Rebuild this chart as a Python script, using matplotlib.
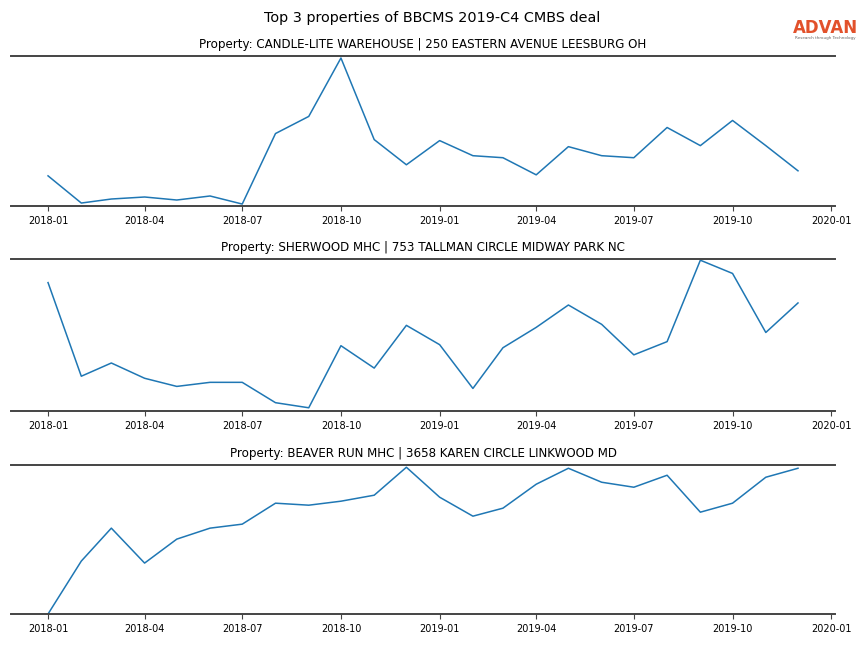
import numpy as np
import pandas as pd
import matplotlib
matplotlib.use("Agg")
import matplotlib.pyplot as plt

# Monthly dates, Jan 2018 - Dec 2019
months = pd.date_range("2018-01-01", "2019-12-01", freq="MS")

titles = [
    "Property: CANDLE-LITE WAREHOUSE | 250 EASTERN AVENUE LEESBURG OH",
    "Property: SHERWOOD MHC | 753 TALLMAN CIRCLE MIDWAY PARK NC",
    "Property: BEAVER RUN MHC | 3658 KAREN CIRCLE LINKWOOD MD",
]

# Relative activity (no y scale shown on the chart)
candle_lite = [30, 3, 7, 9, 6, 10, 2, 72, 89, 147, 66, 41,
               65, 50, 48, 31, 59, 50, 48, 78, 60, 85, 60, 35]
sherwood = [126, 34, 47, 32, 24, 28, 28, 8, 3, 64, 42, 84,
            65, 22, 62, 82, 104, 85, 55, 68, 148, 135, 77, 106]
beaver_run = [0, 53, 86, 51, 75, 86, 90, 111, 109, 113, 119, 147,
              117, 98, 106, 130, 146, 132, 127, 139, 102, 111, 137, 146]

series = [candle_lite, sherwood, beaver_run]

fig = plt.figure(figsize=(8.64, 6.48), dpi=100)
boxes = [(0.9136, 0.682), (0.600, 0.366), (0.282, 0.0525)]
left, right = 0.0122, 0.967

for (top, bottom), vals, title in zip(boxes, series, titles):
    ax = fig.add_axes([left, bottom, right - left, top - bottom])
    ax.plot(months, vals, color="#1f77b4", linewidth=1.1)
    ax.set_ylim(0, 149)
    ax.set_title(title, fontsize=8.6)
    for side in ["left", "right"]:
        ax.spines[side].set_visible(False)
    for side in ["top", "bottom"]:
        ax.spines[side].set_color("#444444")
        ax.spines[side].set_linewidth(1.4)
    ax.set_yticks([])
    ax.tick_params(axis="x", labelsize=7, length=3.5, color="#444444")

fig.suptitle("Top 3 properties of BBCMS 2019-C4 CMBS deal", fontsize=10.4, y=0.983)

# ADVAN logo
fig.text(0.955, 0.957, "ADVAN", color="#e2512b", fontsize=12, fontweight="semibold",
         ha="center", va="center", family="DejaVu Sans")
fig.text(0.955, 0.941, "Research through Technology", color="#666666", fontsize=3,
         ha="center", va="center")

fig.savefig("out.png", dpi=100)
